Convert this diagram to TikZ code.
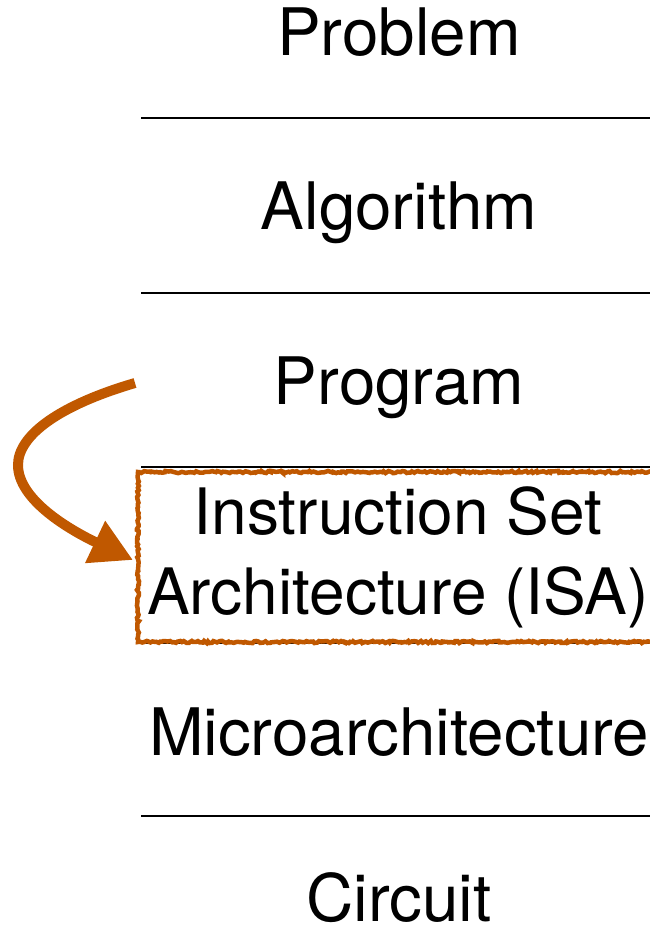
\documentclass[tikz,border=0pt]{standalone}
\usepackage{fontspec}
\setmainfont{TeX Gyre Heros}
\usetikzlibrary{arrows.meta,decorations.pathmorphing}
\definecolor{isaorange}{RGB}{192,88,0}
\tikzset{
  layer/.style={font=\fontsize{65.5}{80}\selectfont, inner sep=0pt, anchor=base},
  sep/.style={line width=2.5pt, black},
  roughbox/.style={draw=isaorange, line width=4.5pt, decorate,
    decoration={random steps, segment length=2pt, amplitude=1.1pt},
    minimum width=520pt, minimum height=170pt, inner sep=0pt,
    font=\fontsize{64}{80}\selectfont, align=center},
  isaarrow/.style={draw=isaorange, line width=10pt,
    -{Triangle[length=42pt,width=44pt]}}
}
\begin{document}
\begin{tikzpicture}[x=1pt,y=-1pt]
\pgfmathsetseed{7}
\useasboundingbox (0,0) rectangle (650,931);
\node[layer] (problem) at (399,56) {Problem};
\node[layer] (algorithm) at (399,229) {Algorithm};
\node[layer] (program) at (399,404) {Program};
\node[layer] (micro) at (399,755) {Microarchitecture};
\node[layer] (circuit) at (399,921) {Circuit};
\foreach \y in {118,293,467,643,816}
  \draw[sep] (141,\y) -- (652,\y);
\node[roughbox] (isa) at (398,557) {Instruction Set\\Architecture (ISA)};
\coordinate (start) at (135,383);
\coordinate (tip) at (133,560);
\draw[isaarrow] (start) .. controls (60,405) and (18,435) .. (18,465)
  .. controls (18,500) and (70,530) .. (tip);
\end{tikzpicture}
\end{document}
